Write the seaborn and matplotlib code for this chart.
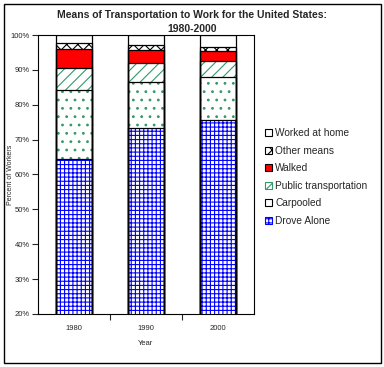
import matplotlib
matplotlib.use("Agg")
import matplotlib.pyplot as plt
import pandas as pd
import seaborn as sb
from matplotlib.patches import Patch, Rectangle
from matplotlib.ticker import FixedLocator, PercentFormatter

# Meios de transporte para o trabalho (% dos trabalhadores), EUA
YEARS = ["1980", "1990", "2000"]
DROVE_ALONE = [64.4, 73.2, 75.7]
CARPOOLED = [19.7, 13.4, 12.2]
PUBLIC_TRANSPORTATION = [6.4, 5.3, 4.7]
WALKED = [5.6, 3.9, 2.9]
OTHER_MEANS = [1.6, 1.2, 1.2]
WORKED_AT_HOME = [2.3, 3.0, 3.3]

# de baixo para cima
SERIES_NAMES = ["Drove Alone", "Carpooled", "Public transportation",
                "Walked", "Other means", "Worked at home"]
SERIES_VALUES = [DROVE_ALONE, CARPOOLED, PUBLIC_TRANSPORTATION,
                 WALKED, OTHER_MEANS, WORKED_AT_HOME]

# (cor de fundo, cor do hatch, hatch)
STYLE = {
    "Drove Alone": ("white", "#0000FF", "++++"),
    "Carpooled": ("white", "#339966", ".."),
    "Public transportation": ("white", "#339966", "///"),
    "Walked": ("#FF0000", "#FF0000", None),
    "Other means": ("white", "black", "xxx"),
    "Worked at home": ("white", "white", None),
}

W, H = 384, 367

sb.set_style("white")
plt.rcParams["font.family"] = ["Liberation Sans", "DejaVu Sans"]
plt.rcParams["hatch.linewidth"] = 0.8

df = pd.DataFrame(dict(zip(SERIES_NAMES, SERIES_VALUES)), index=YEARS)
cum = df.cumsum(axis=1)

fig = plt.figure(figsize=(W / 100, H / 100), dpi=100)
ax = fig.add_axes([38 / W, 1 - 314 / H, 216 / W, 279 / H])

# empilha desenhando do topo (acumulado maior) para a base
for name in reversed(SERIES_NAMES):
    face, hcolor, hatch = STYLE[name]
    n = len(ax.patches)
    sb.barplot(x=YEARS, y=cum[name].values, ax=ax, width=0.49,
               saturation=1, color=face)
    for p in ax.patches[n:]:
        p.set_facecolor(face)
        p.set_edgecolor(hcolor)
        p.set_hatch(hatch)
        p.set_linewidth(0)

# contornos pretos de cada segmento
for name in SERIES_NAMES:
    n = len(ax.patches)
    sb.barplot(x=YEARS, y=cum[name].values, ax=ax, width=0.49,
               saturation=1, color="black")
    for p in ax.patches[n:]:
        p.set_fill(False)
        p.set_edgecolor("black")
        p.set_linewidth(0.9)

ax.set_xlim(-0.5, 2.5)
ax.set_ylim(20, 100)
ax.set_yticks(range(20, 101, 10))
ax.yaxis.set_major_formatter(PercentFormatter(decimals=0))
ax.xaxis.set_minor_locator(FixedLocator([0.5, 1.5]))
ax.tick_params(axis="y", direction="out", length=4, width=0.8,
               labelsize=5.5, pad=2, left=True)
ax.tick_params(axis="x", which="major", length=0, labelsize=5.5, pad=8)
ax.tick_params(axis="x", which="minor", direction="out", length=4,
               width=0.8, bottom=True)
for s in ax.spines.values():
    s.set_color("black")
    s.set_linewidth(0.8)

ax.set_xlabel("Year", fontsize=5.5, labelpad=6)
ax.set_ylabel("Percent of Workers", fontsize=5)
ax.yaxis.set_label_coords((14 - 38) / 216, 0.5)

fig.text(0.5, 1 - 22 / H,
         "Means of Transportation to Work for the United States:\n1980-2000",
         ha="center", va="center", fontsize=7.5, fontweight="bold",
         linespacing=1.4)

handles = []
for name in reversed(SERIES_NAMES):
    face, hcolor, hatch = STYLE[name]
    ec = "black" if hcolor in ("white", "#FF0000") else hcolor
    if name == "Carpooled":
        ec = "black"
        hatch = None
    handles.append(Patch(facecolor=face, edgecolor=ec, hatch=hatch,
                         linewidth=0.8, label=name))
fig.legend(handles=handles, loc="upper left",
           bbox_to_anchor=(265 / W, 1 - 128 / H), frameon=False,
           fontsize=7.3, handlelength=0.7, handleheight=0.7,
           handletextpad=0.3, labelspacing=0.75, borderpad=0,
           borderaxespad=0)

fig.patches.append(Rectangle((4 / W, 4 / H), 377 / W, 359 / H,
                             transform=fig.transFigure, fill=False,
                             linewidth=1, edgecolor="black"))

fig.savefig("out.png", dpi=100)
plt.close(fig)
